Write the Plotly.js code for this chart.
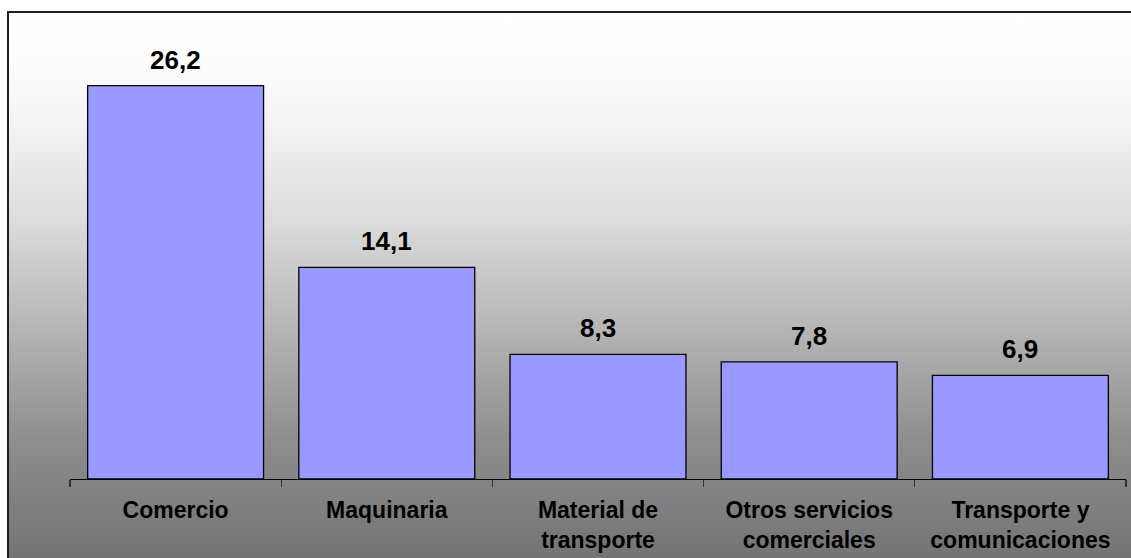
<!DOCTYPE html>
<html>
<head>
<meta charset="utf-8">
<script src="https://cdn.plot.ly/plotly-3.0.1.min.js"></script>
<style>
  html, body { margin: 0; padding: 0; background: #ffffff; }
  #wrap { position: relative; width: 1131px; height: 558px; overflow: hidden; background: #ffffff; }
  #frame {
    position: absolute; left: 7px; top: 11px; width: 1200px; height: 600px;
    border-left: 2px solid #1e1e1e; border-top: 2px solid #1e1e1e;
    background: linear-gradient(to bottom, #ffffff 0px, #fdfdfd 47px, #f4f4f4 107px, #dcdcdc 207px, #b8b8b8 307px, #8e8e8e 427px, #747474 545px, #707070 600px);
  }
  #chart { position: absolute; left: 0; top: 0; width: 1131px; height: 558px; }
</style>
</head>
<body>
<div id="wrap">
  <div id="frame"></div>
  <div id="chart"></div>
</div>
<script>
// Data
const categories = ["Comercio", "Maquinaria", "Material de<br>transporte", "Otros servicios<br>comerciales", "Transporte y<br>comunicaciones"];
const values = [26.2, 14.1, 8.3, 7.8, 6.9];

const fmt = v => v.toFixed(1).replace('.', ',');

const trace = {
  type: 'bar',
  x: categories,
  y: values,
  width: 0.833,
  marker: { color: '#9999FF', line: { color: '#000000', width: 1.3 } },
  hoverinfo: 'skip'
};

const annotations = categories.map((c, i) => ({
  x: c, y: values[i], xref: 'x', yref: 'y',
  text: fmt(values[i]),
  showarrow: false,
  yanchor: 'bottom',
  yshift: 9,
  font: { family: 'Liberation Sans, Arial, sans-serif', size: 26, color: '#000000', weight: 'bold' }
}));

const layout = {
  width: 1131, height: 558,
  margin: { l: 70, r: 5, t: 30, b: 79 },
  paper_bgcolor: 'rgba(0,0,0,0)',
  plot_bgcolor: 'rgba(0,0,0,0)',
  showlegend: false,
  separators: ',.',
  xaxis: {
    type: 'category',
    range: [-0.5, 4.5],
    showline: true, linecolor: '#000000', linewidth: 1.3,
    ticks: 'outside', tickson: 'boundaries', ticklen: 7, tickcolor: '#333333', tickwidth: 1.3,
    ticklabelstandoff: 10,
    showgrid: false, zeroline: false,
    tickfont: { family: 'Liberation Sans, Arial, sans-serif', size: 23, color: '#000000', weight: 'bold' },
    fixedrange: true
  },
  yaxis: {
    range: [0, 29.91],
    visible: false,
    showgrid: false, zeroline: false,
    fixedrange: true
  },
  annotations: annotations
};

Plotly.newPlot('chart', [trace], layout, { displayModeBar: false, staticPlot: true });
</script>
</body>
</html>
